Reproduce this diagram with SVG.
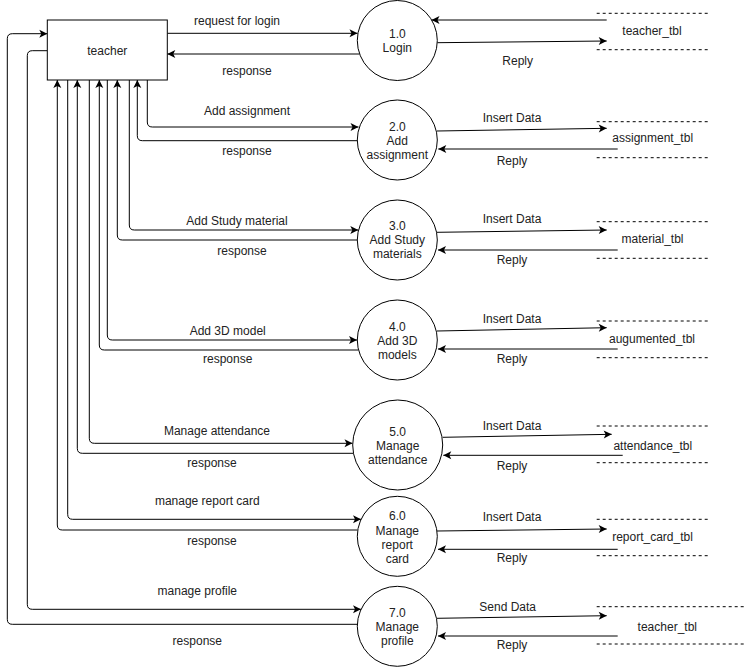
<svg xmlns="http://www.w3.org/2000/svg" width="752" height="667" viewBox="0 0 752 667">
<style>
text{font-family:"Liberation Sans",Arial,sans-serif;font-size:12px;fill:#222;text-anchor:middle}
.ln{fill:none;stroke:#000;stroke-width:1}
.ar{marker-end:url(#arr)}
.ds{stroke:#000;stroke-width:1;stroke-dasharray:3 3}
.proc{fill:#fff;stroke:#000;stroke-width:1}
</style>
<defs>
<marker id="arr" viewBox="-9 -5 10 10" refX="0" refY="0" markerWidth="10" markerHeight="10" markerUnits="userSpaceOnUse" orient="auto">
<path d="M0,0 L-8,-4 L-6,0 L-8,4 Z" fill="#000"/>
</marker>
</defs>
<rect width="752" height="667" fill="#fff"/>

<g id="connectors">
<!-- login -->
<path class="ln ar" d="M167.3,33.3 H357.5"/>
<path class="ln ar" d="M359.5,54 H167.3"/>
<path class="ln ar" d="M606.7,20 H431.5"/>
<path class="ln ar" d="M437.3,42.7 L606.7,41"/>
<!-- assignment -->
<path class="ln ar" d="M147.3,80 V122 Q147.3,127 152.3,127 H358.5"/>
<path class="ln ar" d="M357,140.7 H142.3 Q137.3,140.7 137.3,135.7 V80"/>
<path class="ln ar" d="M437,131 L606.7,128.3"/>
<path class="ln ar" d="M617.7,149 H438.3"/>
<!-- study material -->
<path class="ln ar" d="M129.3,80 V225 Q129.3,230 134.3,230 H358.3"/>
<path class="ln ar" d="M357,240 H122.3 Q117.3,240 117.3,235 V80"/>
<path class="ln ar" d="M437,232.3 L606.7,230"/>
<path class="ln ar" d="M617.7,250 H438"/>
<!-- 3D model -->
<path class="ln ar" d="M107.3,80 V335 Q107.3,340 112.3,340 H357"/>
<path class="ln ar" d="M358.3,350 H104.3 Q99.3,350 99.3,345 V80"/>
<path class="ln ar" d="M437,331 L606.7,327.7"/>
<path class="ln ar" d="M617.7,349 H438"/>
<!-- attendance -->
<path class="ln ar" d="M89.3,80 V438.3 Q89.3,443.3 94.3,443.3 H352.5"/>
<path class="ln ar" d="M353.3,453.3 H82.3 Q77.3,453.3 77.3,448.3 V80"/>
<path class="ln ar" d="M442.7,437.3 L611.7,434.3"/>
<path class="ln ar" d="M622.7,455.3 H443.3"/>
<!-- report card -->
<path class="ln ar" d="M67.7,80 V514.3 Q67.7,519.3 72.7,519.3 H361"/>
<path class="ln ar" d="M357.5,530 H62.3 Q57.3,530 57.3,525 V80"/>
<path class="ln ar" d="M437,531 L606.7,529"/>
<path class="ln ar" d="M617.7,549.3 H438"/>
<!-- profile -->
<path class="ln ar" d="M47.3,50.7 H32.3 Q27.3,50.7 27.3,55.7 V604.3 Q27.3,609.3 32.3,609.3 H361"/>
<path class="ln ar" d="M357.5,624.3 H12.3 Q7.3,624.3 7.3,619.3 V38.7 Q7.3,33.7 12.3,33.7 H47.3"/>
<path class="ln ar" d="M437,618.3 L606.7,615.7"/>
<path class="ln ar" d="M617.7,636 H438"/>
</g>

<g id="labels">
<text x="237" y="25">request for login</text>
<text x="247" y="75">response</text>
<text x="517.7" y="65">Reply</text>
<text x="247" y="114.5">Add assignment</text>
<text x="247" y="155">response</text>
<text x="512" y="122">Insert Data</text>
<text x="512" y="165">Reply</text>
<text x="237" y="225">Add Study material</text>
<text x="242" y="255">response</text>
<text x="512" y="223">Insert Data</text>
<text x="512" y="263.5">Reply</text>
<text x="227.7" y="335">Add 3D model</text>
<text x="227.7" y="363">response</text>
<text x="512" y="322.5">Insert Data</text>
<text x="512" y="363">Reply</text>
<text x="217" y="435">Manage attendance</text>
<text x="212" y="467">response</text>
<text x="512" y="430">Insert Data</text>
<text x="512" y="470">Reply</text>
<text x="207.3" y="505">manage report card</text>
<text x="212" y="545">response</text>
<text x="512" y="521">Insert Data</text>
<text x="512" y="561.5">Reply</text>
<text x="197.3" y="595">manage profile</text>
<text x="197.3" y="645">response</text>
<text x="507.7" y="611">Send Data</text>
<text x="512" y="649">Reply</text>
</g>

<g id="teacher">
<rect x="47.3" y="20" width="120" height="60" fill="#fff" stroke="#000"/>
<text x="107.3" y="55">teacher</text>
</g>

<g id="p1">
<circle class="proc" cx="397.3" cy="40.5" r="40"/>
<text x="397.3" y="37.5">1.0</text>
<text x="397.3" y="52">Login</text>
</g>
<g id="p2">
<circle class="proc" cx="397.3" cy="140" r="40"/>
<text x="397.3" y="131">2.0</text>
<text x="397.3" y="145">Add</text>
<text x="397.3" y="159">assignment</text>
</g>
<g id="p3">
<circle class="proc" cx="397.3" cy="240" r="40"/>
<text x="397.3" y="230">3.0</text>
<text x="397.3" y="244">Add Study</text>
<text x="397.3" y="258">materials</text>
</g>
<g id="p4">
<circle class="proc" cx="397.3" cy="340" r="40"/>
<text x="397.3" y="331">4.0</text>
<text x="397.3" y="345">Add 3D</text>
<text x="397.3" y="359">models</text>
</g>
<g id="p5">
<circle class="proc" cx="397.7" cy="445" r="45"/>
<text x="397.7" y="436">5.0</text>
<text x="397.7" y="450">Manage</text>
<text x="397.7" y="464">attendance</text>
</g>
<g id="p6">
<circle class="proc" cx="397.3" cy="536.3" r="40"/>
<text x="397.3" y="520">6.0</text>
<text x="397.3" y="534.5">Manage</text>
<text x="397.3" y="549">report</text>
<text x="397.3" y="563">card</text>
</g>
<g id="p7">
<circle class="proc" cx="397.3" cy="626.3" r="40"/>
<text x="397.3" y="616.5">7.0</text>
<text x="397.3" y="630.5">Manage</text>
<text x="397.3" y="645">profile</text>
</g>

<g id="ds1">
<line class="ds" x1="596.7" y1="13.3" x2="708.3" y2="13.3"/>
<line class="ds" x1="596.7" y1="49.7" x2="708.3" y2="49.7"/>
<text x="652" y="35">teacher_tbl</text>
</g>
<g id="ds2">
<line class="ds" x1="596.7" y1="121.7" x2="708.3" y2="121.7"/>
<line class="ds" x1="596.7" y1="157.7" x2="708.3" y2="157.7"/>
<text x="652.7" y="142">assignment_tbl</text>
</g>
<g id="ds3">
<line class="ds" x1="596.7" y1="221.7" x2="708.3" y2="221.7"/>
<line class="ds" x1="596.7" y1="258.3" x2="708.3" y2="258.3"/>
<text x="652.5" y="243">material_tbl</text>
</g>
<g id="ds4">
<line class="ds" x1="596.7" y1="321" x2="708.3" y2="321"/>
<line class="ds" x1="596.7" y1="357.7" x2="708.3" y2="357.7"/>
<text x="652" y="343">augumented_tbl</text>
</g>
<g id="ds5">
<line class="ds" x1="596.7" y1="426" x2="708.3" y2="426"/>
<line class="ds" x1="596.7" y1="462.7" x2="708.3" y2="462.7"/>
<text x="652.8" y="450">attendance_tbl</text>
</g>
<g id="ds6">
<line class="ds" x1="596.7" y1="519.3" x2="708.3" y2="519.3"/>
<line class="ds" x1="596.7" y1="555.7" x2="708.3" y2="555.7"/>
<text x="652.5" y="541">report_card_tbl</text>
</g>
<g id="ds7">
<line class="ds" x1="596.7" y1="606.7" x2="745" y2="606.7"/>
<line class="ds" x1="596.7" y1="644" x2="745" y2="644"/>
<text x="667.3" y="631">teacher_tbl</text>
</g>
</svg>
